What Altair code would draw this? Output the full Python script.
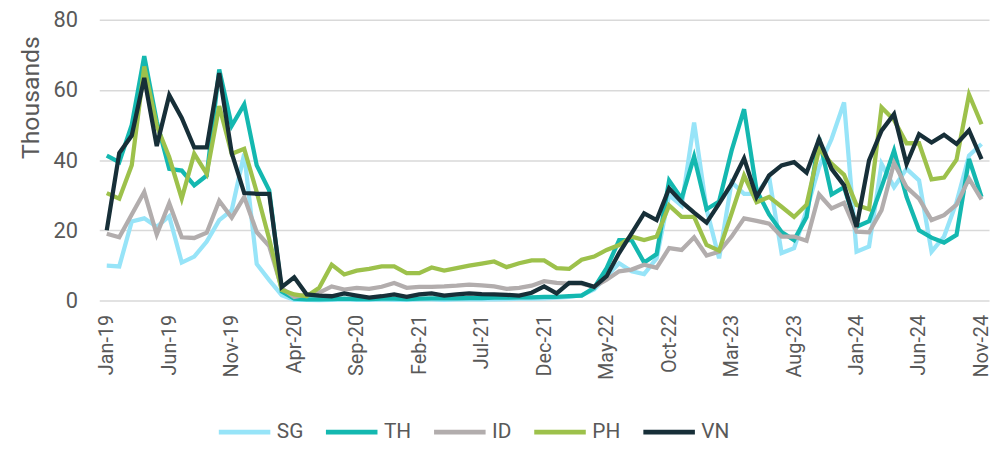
import altair as alt
import pandas as pd

months = [d.strftime("%b-%y") for d in pd.date_range("2019-01-01", periods=71, freq="MS")]
tick_labels = ["Jan-19", "Jun-19", "Nov-19", "Apr-20", "Sep-20", "Feb-21", "Jul-21", "Dec-21",
               "May-22", "Oct-22", "Mar-23", "Aug-23", "Jan-24", "Jun-24", "Nov-24"]
series_names = ["SG", "TH", "ID", "PH", "VN"]
series_colors = ["#97E4F8", "#14B8B0", "#B2ADAD", "#9DC14B", "#172F38"]

SG = [9.9, 9.7, 22.5, 23.4, 21.0, 24.0, 10.8, 12.5, 16.8, 22.9, 25.7, 41.8, 10.4, 5.8, 1.5, 0.2,
      0.2, 0.1, 0.2, 0.3, 0.2, 0.2, 0.3, 0.2, 0.2, 0.3, 0.3, 0.2, 0.3, 0.3, 0.4, 0.3, 0.4, 0.5, 0.5,
      0.6, 0.8, 1.0, 1.5, 3.1, 6.9, 10.6, 8.3, 7.5, 12.0, 30.0, 27.0, 50.7, 26.0, 12.0, 33.7, 30.4,
      30.4, 35.2, 13.5, 14.9, 25.7, 38.0, 46.0, 56.4, 13.9, 15.4, 38.9, 32.3, 37.5, 34.2, 13.9, 18.2,
      28.0, 41.3, 44.6]
TH = [41.3, 39.4, 50.0, 69.6, 51.0, 37.5, 37.0, 32.8, 35.6, 65.8, 49.8, 55.9, 38.5, 31.4, 2.6, 0.5,
      0.3, 0.3, 0.4, 0.5, 0.4, 0.4, 0.5, 0.5, 0.4, 0.5, 0.6, 0.6, 0.6, 0.7, 0.7, 0.8, 0.8, 0.9, 0.9,
      1.0, 1.0, 1.2, 1.4, 3.6, 9.2, 17.2, 17.2, 10.8, 13.2, 34.2, 29.0, 41.0, 26.0, 28.2, 42.7, 54.5,
      31.4, 24.5, 19.5, 17.2, 23.8, 46.3, 30.2, 32.3, 21.0, 22.6, 32.3, 42.7, 29.5, 20.0, 17.9, 16.5,
      18.7, 40.3, 29.5]
ID = [19.0, 18.0, 24.5, 30.9, 18.8, 27.7, 18.0, 17.8, 19.3, 28.4, 23.6, 29.5, 19.5, 15.5, 3.5, 1.0,
      1.7, 2.2, 4.0, 3.1, 3.6, 3.3, 3.9, 5.0, 3.6, 3.9, 3.9, 4.0, 4.2, 4.5, 4.3, 4.0, 3.3, 3.6, 4.2,
      5.5, 5.0, 4.8, 4.8, 3.9, 5.9, 8.3, 8.8, 10.2, 9.3, 14.9, 14.4, 18.0, 12.8, 13.9, 18.2, 23.4,
      22.7, 21.9, 18.2, 18.2, 17.0, 30.2, 26.2, 27.8, 19.6, 19.4, 25.7, 39.2, 32.3, 29.0, 22.9, 24.3,
      27.3, 34.7, 28.8]
PH = [30.6, 29.0, 38.5, 66.7, 49.8, 40.8, 29.0, 41.8, 36.1, 55.4, 41.8, 43.2, 30.9, 17.5, 3.0, 1.7,
      1.2, 3.6, 10.2, 7.4, 8.5, 9.0, 9.7, 9.7, 7.8, 7.8, 9.4, 8.5, 9.2, 9.9, 10.5, 11.1, 9.5, 10.6,
      11.4, 11.4, 9.2, 9.0, 11.6, 12.5, 14.4, 15.8, 18.2, 17.2, 18.2, 27.1, 23.8, 23.8, 15.8, 14.2,
      24.8, 35.6, 28.0, 29.5, 26.7, 23.8, 27.3, 43.2, 39.0, 35.8, 27.2, 26.0, 55.0, 51.4, 44.8, 44.8,
      34.5, 35.0, 40.1, 58.7, 50.2]
VN = [20.0, 42.0, 47.0, 63.4, 44.0, 58.5, 52.0, 43.6, 43.6, 64.8, 42.0, 30.6, 30.4, 30.4, 3.8, 6.6,
      1.7, 1.4, 1.2, 2.0, 1.4, 0.8, 1.2, 1.7, 1.0, 1.7, 2.0, 1.4, 1.7, 2.0, 1.8, 1.7, 1.6, 1.4, 2.2,
      4.0, 2.0, 5.0, 5.0, 3.9, 6.9, 13.5, 19.1, 24.8, 22.9, 31.9, 28.1, 25.0, 22.2, 27.6, 33.3, 40.5,
      29.5, 35.6, 38.5, 39.4, 36.4, 46.0, 37.5, 32.8, 21.0, 39.9, 48.4, 53.1, 38.9, 47.4, 45.0, 47.2,
      44.6, 48.5, 40.3]

rows = []
for name, vals in zip(series_names, [SG, TH, ID, PH, VN]):
    for m, v in zip(months, vals):
        rows.append({"month": m, "series": name, "value": v})
df = pd.DataFrame(rows)

FONT = "Roboto"
GREY = "#595959"

chart = alt.Chart(df).mark_line(strokeWidth=4.3, strokeJoin="miter", strokeCap="butt").encode(
    x=alt.X("month:O", sort=months,
            scale=alt.Scale(type="point", padding=0.6),
            axis=alt.Axis(values=tick_labels, labelAngle=-90, title=None, ticks=False, domain=False,
                          grid=False, labelFontSize=20, labelColor=GREY, labelFont=FONT,
                          labelPadding=14)),
    y=alt.Y("value:Q", scale=alt.Scale(domain=[0, 80]),
            axis=alt.Axis(values=[0, 20, 40, 60, 80], title="Thousands", ticks=False, domain=False,
                          gridColor="#D9D9D9", gridWidth=1.5, labelFontSize=22, labelColor=GREY,
                          labelFont=FONT, labelPadding=22, titleFontSize=25, titleColor=GREY,
                          titleFont=FONT, titleFontWeight="normal", titlePadding=10, titleY=78)),
    color=alt.Color("series:N", sort=series_names,
                    scale=alt.Scale(domain=series_names, range=series_colors),
                    legend=alt.Legend(orient="none", legendX=118, legendY=387, direction="horizontal",
                                      title=None, symbolType="stroke", symbolSize=2700,
                                      symbolStrokeWidth=5, labelFontSize=21, labelColor=GREY,
                                      labelFont=FONT, labelOffset=4, columnPadding=12)),
).properties(
    width=897, height=283,
    autosize=alt.AutoSizeParams(type="none"),
    padding={"left": 92, "top": 10, "right": 3, "bottom": 157},
).configure_view(stroke=None)

chart.save("out.html", embed_options={"renderer": "svg", "actions": False})
